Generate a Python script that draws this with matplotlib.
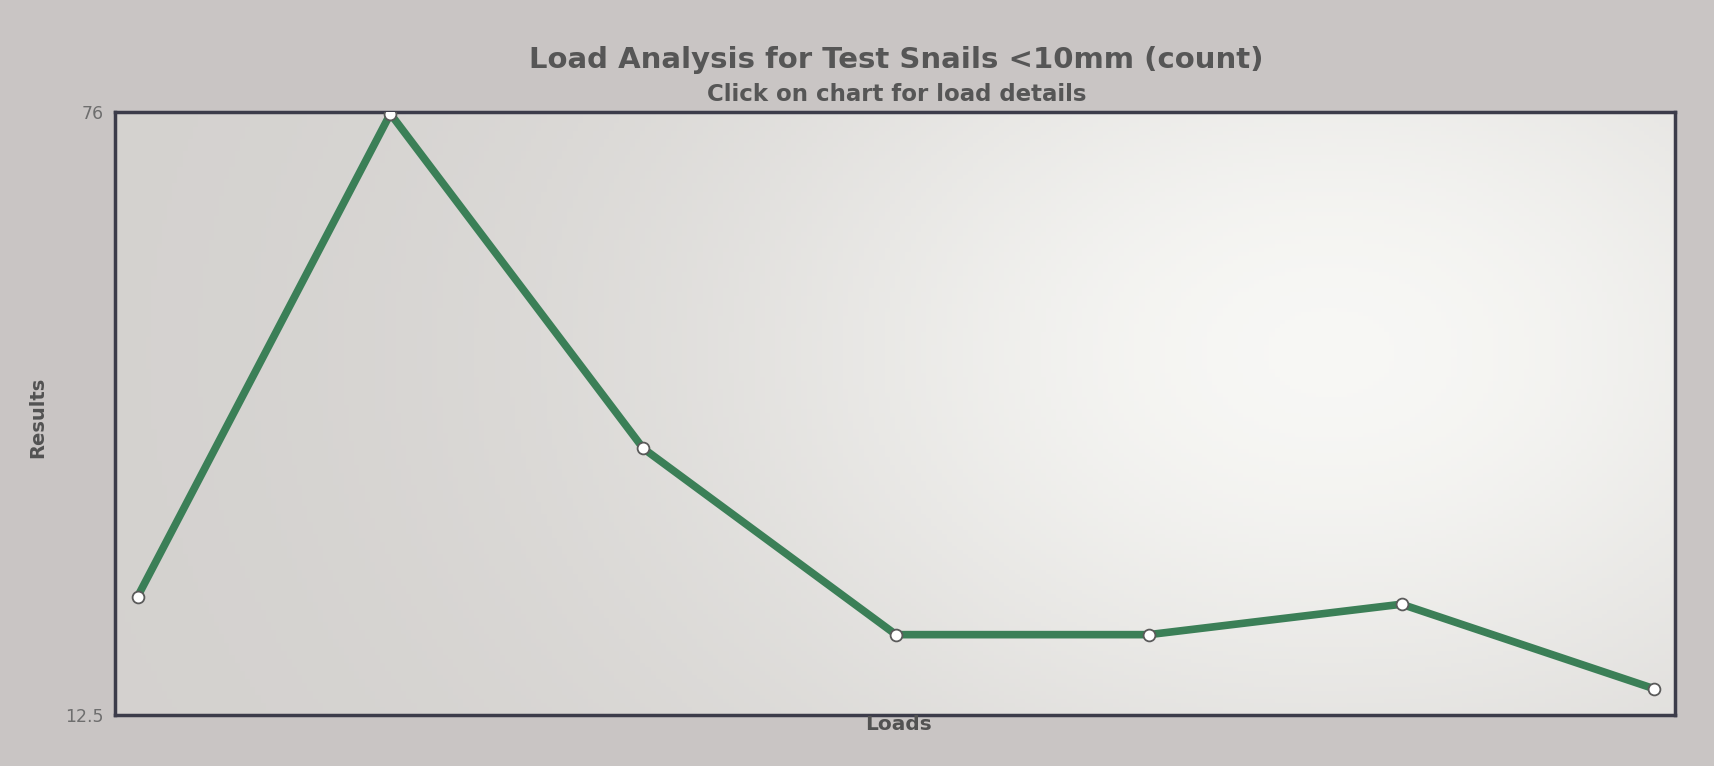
import matplotlib
matplotlib.use("Agg")
import matplotlib.pyplot as plt
import numpy as np

loads = ["1", "2", "3", "4", "5", "6", "7"]
results = [25.0, 75.8, 40.6, 21.0, 21.0, 24.2, 15.3]
y_ticks = [12.5, 76]
y_tick_labels = ["12.5", "76"]

title = "Load Analysis for Test Snails <10mm (count)"
subtitle = "Click on chart for load details"

fig = plt.figure(figsize=(17.14, 7.66), dpi=100, facecolor="#c9c5c4")
ax = fig.add_axes([0.067, 0.066, 0.91, 0.788])

# soft photographic background gradient inside plot area
gx = np.linspace(0, 1, 300)
gy = np.linspace(0, 1, 150)
GX, GY = np.meshgrid(gx, gy)
glow = np.exp(-(((GX - 0.78) / 0.42) ** 2 + ((GY - 0.6) / 0.75) ** 2))
base = np.array([0.83, 0.82, 0.81])
light = np.array([0.97, 0.97, 0.96])
img = base[None, None, :] + (light - base)[None, None, :] * glow[:, :, None]
ax.imshow(img, extent=[0, 1, 0, 1], transform=ax.transAxes, aspect="auto",
          zorder=0, origin="lower")

x = np.arange(len(loads))
ax.plot(x, results, color="#3b7f57", linewidth=5.5, solid_capstyle="round",
        solid_joinstyle="round", zorder=3)
ax.plot(x, results, linestyle="none", marker="o", markersize=8.5,
        markerfacecolor="white", markeredgecolor="#5a5a5a", markeredgewidth=1.3,
        zorder=4)

ax.set_xlim(-0.09, len(loads) - 1 + 0.08)
ax.set_ylim(12.5, 76)
ax.set_yticks(y_ticks)
ax.set_yticklabels(y_tick_labels, fontsize=12.5, color="#6e6e6e")
ax.set_xticks([])
ax.tick_params(axis="y", length=0, pad=8)

for s in ax.spines.values():
    s.set_color("#3c3c4a")
    s.set_linewidth(2.5)

fig.text(0.523, 0.922, title, ha="center", va="center", fontsize=21,
         fontweight="bold", color="#565656")
fig.text(0.523, 0.877, subtitle, ha="center", va="center", fontsize=16.5,
         fontweight="bold", color="#565656")
fig.text(0.022, 0.455, "Results", ha="center", va="center", rotation=90,
         fontsize=14, fontweight="bold", color="#525252")
fig.text(0.524, 0.054, "Loads", ha="center", va="center", fontsize=14.5,
         fontweight="bold", color="#525252")

fig.savefig("out.png", dpi=100, facecolor=fig.get_facecolor())
